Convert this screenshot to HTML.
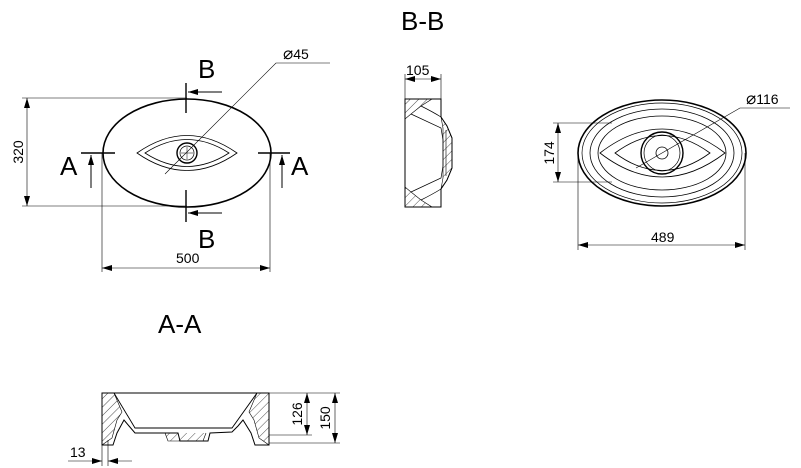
<!DOCTYPE html>
<html><head><style>body{margin:0;background:#fff}svg{display:block}text{font-family:"Liberation Sans",sans-serif;fill:#000}</style></head><body>
<svg width="801" height="468" viewBox="0 0 801 468" xmlns="http://www.w3.org/2000/svg">
<defs>
<marker id="ar" viewBox="0 0 10 6" refX="10" refY="3" markerWidth="10" markerHeight="6" orient="auto-start-reverse" markerUnits="userSpaceOnUse"><path d="M0,0L10,3L0,6z" fill="#000"/></marker>
<pattern id="h" width="6" height="6" patternUnits="userSpaceOnUse" patternTransform="rotate(45)"><line x1="0" y1="0" x2="0" y2="6" stroke="#000" stroke-width="0.7"/></pattern>
</defs>
<g fill="none" stroke="#000" stroke-width="1">
<ellipse cx="187" cy="153" rx="84" ry="54" stroke-width="1.6"/>
<path d="M137,153 Q187,118 237,153 Q187,188 137,153Z" stroke-width="0.8"/>
<path d="M145,153 Q187,126 229,153 Q187,180 145,153Z" stroke-width="0.8"/>
<circle cx="187" cy="153" r="10" stroke-width="1.4"/><circle cx="187" cy="153" r="7" stroke-width="0.7"/>
<line x1="181" y1="153" x2="193" y2="153" stroke-width="0.5"/><line x1="187" y1="147" x2="187" y2="159" stroke-width="0.5"/>
<line x1="186" y1="83" x2="186" y2="113" stroke-width="1.4"/><line x1="186" y1="190" x2="186" y2="222" stroke-width="1.4"/>
<line x1="222" y1="92" x2="188" y2="92" marker-end="url(#ar)"/><line x1="222" y1="213" x2="188" y2="213" marker-end="url(#ar)"/>
<line x1="81" y1="153" x2="115" y2="153" stroke-width="1.4"/><line x1="258" y1="153" x2="290" y2="153" stroke-width="1.4"/>
<line x1="91" y1="188" x2="91" y2="155" marker-end="url(#ar)"/><line x1="282" y1="188" x2="282" y2="155" marker-end="url(#ar)"/>
<g stroke-width="0.6">
<line x1="22" y1="98" x2="187" y2="98"/><line x1="22" y1="206" x2="187" y2="206"/>
<line x1="27" y1="98" x2="27" y2="206" marker-start="url(#ar)" marker-end="url(#ar)"/>
<line x1="102" y1="153" x2="102" y2="272"/><line x1="270" y1="153" x2="270" y2="272"/>
<line x1="102" y1="268" x2="270" y2="268" marker-start="url(#ar)" marker-end="url(#ar)"/>
<polyline points="165,174 276,63 330,63"/>
</g>
<path d="M405,99 L441,99 L441,117 L447,126 L452,138 L452,168 L447,180 L441,189 L441,207 L405,207Z"/>
<path d="M405,99 L432,99 L421,106 L411,114 L405,119Z" fill="url(#h)" stroke-width="0.6"/>
<path d="M405,207 L432,207 L421,200 L411,192 L405,187Z" fill="url(#h)" stroke-width="0.6"/>
<path d="M441,117 L447,126 L452,138 L452,168 L447,180 L441,189 L443,178 L443,128Z" fill="url(#h)" stroke-width="0.6"/>
<path d="M421,106 Q433,112 441,117 M411,114 Q428,122 441,128 L443,140 L443,166 L441,178 Q428,184 411,192 M421,200 Q433,194 441,189" stroke-width="0.7"/>
<line x1="446" y1="130" x2="446" y2="176" stroke-width="0.6"/>
<g stroke-width="0.6"><line x1="405" y1="74" x2="405" y2="99"/><line x1="441" y1="74" x2="441" y2="99"/>
<line x1="405" y1="79" x2="441" y2="79" marker-start="url(#ar)" marker-end="url(#ar)"/></g>
<ellipse cx="662" cy="153" rx="84" ry="53" stroke-width="1.6"/>
<ellipse cx="662" cy="153" rx="80" ry="50" stroke-width="0.7"/>
<ellipse cx="662" cy="153" rx="72" ry="44" stroke-width="0.8"/>
<ellipse cx="662" cy="153" rx="64" ry="37" stroke-width="0.8"/>
<path d="M615,153 Q662,118 710,153 Q662,188 615,153Z" stroke-width="0.8"/>
<path d="M600,153 Q662,105 725,153 Q662,201 600,153Z" stroke-width="0.8"/>
<circle cx="662" cy="153" r="21" stroke-width="1.4"/><circle cx="662" cy="153" r="18" stroke-width="0.7"/>
<circle cx="662" cy="153" r="6" stroke-width="0.8"/>
<g stroke-width="0.6">
<line x1="553" y1="123" x2="612" y2="123"/><line x1="553" y1="182" x2="612" y2="182"/>
<line x1="558" y1="123" x2="558" y2="182" marker-start="url(#ar)" marker-end="url(#ar)"/>
<line x1="578" y1="153" x2="578" y2="250"/><line x1="745" y1="153" x2="745" y2="250"/>
<line x1="578" y1="245" x2="745" y2="245" marker-start="url(#ar)" marker-end="url(#ar)"/>
<polyline points="636,168 740,108 790,108"/>
</g>
<path d="M102,393 L269,393 L269,445 L255,445 L251,433 L243,420 L238,426 L232,432 L210,433 L208,441 L180,441 L178,433 L135,433 L129,426 L124,420 L117,433 L113,445 L102,445Z"/>
<path d="M102,393 L114,393 L122,412 L117,420 L112,438 L102,445Z" fill="url(#h)" stroke-width="0.6"/>
<path d="M269,393 L257,393 L249,412 L254,420 L259,438 L269,445Z" fill="url(#h)" stroke-width="0.6"/>
<path d="M114,393 L135,428 L232,428 L257,393" stroke-width="0.9"/>
<path d="M165,433 L168,441 L203,441 L206,433" fill="url(#h)" stroke-width="0.6"/>
<g stroke-width="0.6">
<line x1="269" y1="393" x2="340" y2="393"/><line x1="269" y1="435" x2="312" y2="435"/><line x1="269" y1="443" x2="340" y2="443"/>
<line x1="307" y1="393" x2="307" y2="435" marker-start="url(#ar)" marker-end="url(#ar)"/>
<line x1="335" y1="393" x2="335" y2="443" marker-start="url(#ar)" marker-end="url(#ar)"/>
<line x1="102" y1="445" x2="102" y2="466"/><line x1="108" y1="440" x2="108" y2="466"/>
<line x1="68" y1="461" x2="102" y2="461" marker-end="url(#ar)"/><line x1="132" y1="461" x2="108" y2="461" marker-end="url(#ar)"/>
</g>
</g>
<g font-size="26">
<text x="198" y="78">B</text><text x="198" y="248">B</text>
<text x="60" y="175">A</text><text x="291" y="175">A</text>
<text x="401" y="30">B-B</text><text x="158" y="333">A-A</text>
</g>
<g font-size="14">
<text x="283" y="59"><tspan font-size="17">⌀</tspan>45</text>
<text x="176" y="263">500</text>
<text transform="translate(23,152) rotate(-90)" text-anchor="middle">320</text>
<text x="406" y="75">105</text>
<text x="746" y="104"><tspan font-size="17">⌀</tspan>116</text>
<text transform="translate(554,153) rotate(-90)" text-anchor="middle">174</text>
<text x="651" y="242">489</text>
<text transform="translate(302,414) rotate(-90)" text-anchor="middle">126</text>
<text transform="translate(330,418) rotate(-90)" text-anchor="middle">150</text>
<text x="70" y="457">13</text>
</g>
</svg>
</body></html>
